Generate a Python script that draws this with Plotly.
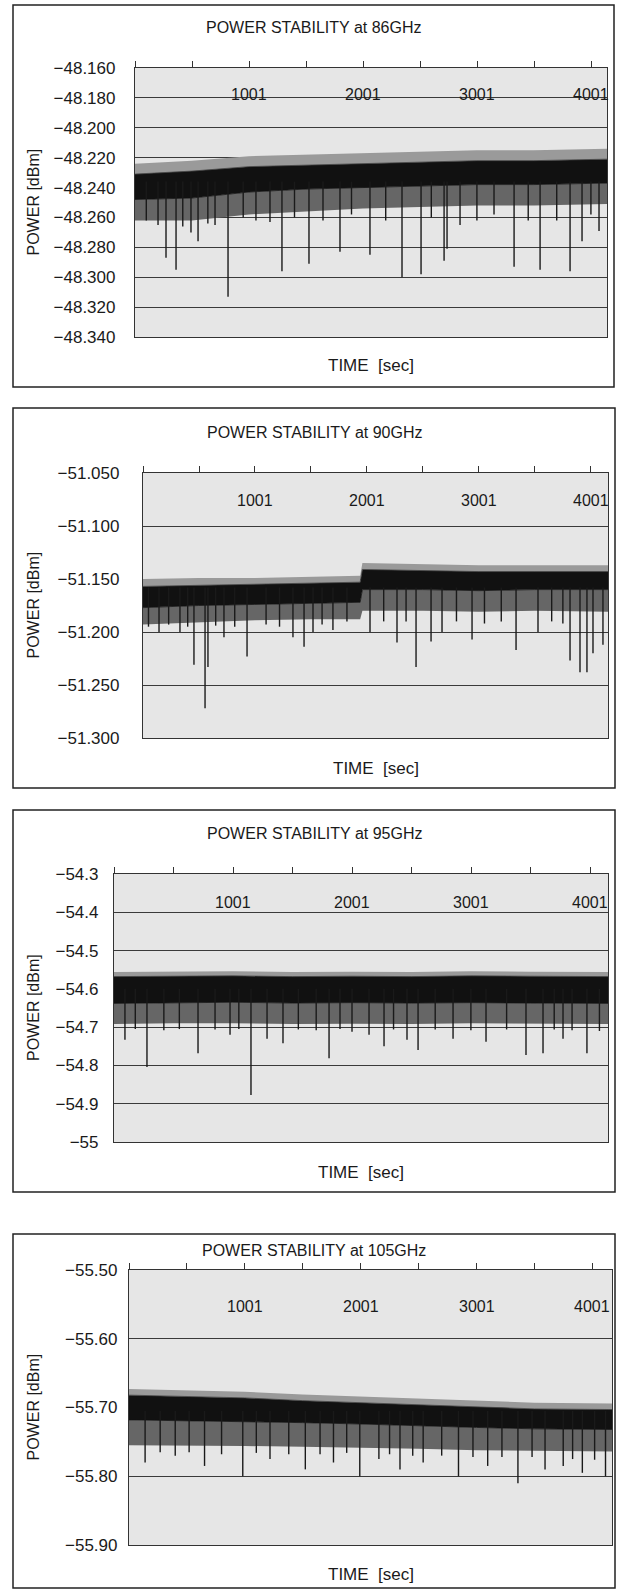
import plotly.graph_objects as go

W, H = 619, 1591

# ---------------- data ----------------
# time grid for the noise envelopes [sec]
t86 = [1, 500, 1000, 1500, 2000, 2500, 3000, 3500, 4141]
peak86 = [-48.224, -48.222, -48.219, -48.218, -48.217, -48.216, -48.215, -48.215, -48.214]
top86 = [-48.231, -48.229, -48.226, -48.225, -48.224, -48.223, -48.222, -48.222, -48.221]
low86 = [-48.248, -48.247, -48.243, -48.241, -48.240, -48.239, -48.238, -48.238, -48.237]
floor86 = [-48.262, -48.262, -48.258, -48.256, -48.254, -48.253, -48.252, -48.252, -48.251]
dip_t86 = [100, 203, 273, 361, 420, 492, 554, 640, 703, 817, 950, 1062, 1185, 1290, 1400,
           1527, 1650, 1799, 1900, 2062, 2200, 2343, 2510, 2600, 2712, 2738, 2852, 3000,
           3150, 3326, 3450, 3554, 3700, 3817, 3922, 4000, 4071]
dip_v86 = [-48.262, -48.265, -48.287, -48.295, -48.266, -48.270, -48.276, -48.264, -48.265,
           -48.313, -48.260, -48.262, -48.263, -48.296, -48.260, -48.291, -48.262, -48.283,
           -48.258, -48.285, -48.262, -48.300, -48.298, -48.260, -48.289, -48.281, -48.265,
           -48.262, -48.258, -48.293, -48.262, -48.295, -48.262, -48.296, -48.276, -48.258,
           -48.269]

t90 = [1, 500, 1000, 1500, 1940, 1960, 2500, 3000, 3500, 4153]
peak90 = [-51.150, -51.149, -51.149, -51.148, -51.147, -51.135, -51.136, -51.137, -51.137, -51.137]
top90 = [-51.157, -51.156, -51.155, -51.154, -51.153, -51.141, -51.142, -51.143, -51.143, -51.143]
low90 = [-51.177, -51.175, -51.174, -51.173, -51.172, -51.160, -51.160, -51.161, -51.160, -51.160]
floor90 = [-51.193, -51.191, -51.189, -51.188, -51.188, -51.180, -51.180, -51.181, -51.180, -51.181]
dip_t90 = [50, 144, 230, 331, 400, 456, 555, 581, 650, 724, 820, 930, 1100, 1220, 1340,
           1439, 1519, 1600, 1697, 1822, 2028, 2150, 2269, 2350, 2439, 2573, 2671, 2800,
           2939, 3050, 3200, 3332, 3528, 3650, 3750, 3814, 3903, 3965, 4019, 4108]
dip_v90 = [-51.195, -51.200, -51.193, -51.200, -51.195, -51.231, -51.272, -51.233, -51.194,
           -51.205, -51.195, -51.223, -51.193, -51.195, -51.205, -51.214, -51.200, -51.193,
           -51.198, -51.190, -51.200, -51.190, -51.210, -51.190, -51.233, -51.209, -51.200,
           -51.190, -51.207, -51.192, -51.190, -51.217, -51.200, -51.190, -51.192, -51.227,
           -51.238, -51.238, -51.220, -51.212]

t95 = [1, 500, 1000, 1500, 2000, 2500, 3000, 3500, 4152]
peak95 = [-54.556, -54.555, -54.554, -54.556, -54.555, -54.556, -54.554, -54.555, -54.556]
top95 = [-54.568, -54.567, -54.566, -54.568, -54.567, -54.568, -54.566, -54.567, -54.568]
low95 = [-54.638, -54.636, -54.635, -54.637, -54.636, -54.637, -54.636, -54.637, -54.638]
floor95 = [-54.692, -54.690, -54.690, -54.692, -54.691, -54.692, -54.690, -54.691, -54.692]
dip_t95 = [93, 180, 278, 420, 550, 707, 850, 976, 1050, 1152, 1287, 1421, 1550, 1700, 1808,
           1900, 2001, 2144, 2270, 2350, 2463, 2556, 2700, 2850, 3000, 3127, 3300, 3463,
           3606, 3700, 3774, 3850, 3975, 4080]
dip_v95 = [-54.733, -54.705, -54.804, -54.708, -54.705, -54.768, -54.706, -54.720, -54.705,
           -54.877, -54.730, -54.742, -54.706, -54.708, -54.781, -54.705, -54.712, -54.720,
           -54.750, -54.706, -54.733, -54.760, -54.706, -54.730, -54.708, -54.738, -54.706,
           -54.773, -54.768, -54.706, -54.730, -54.708, -54.768, -54.710]

t105 = [1, 500, 1000, 1500, 2000, 2500, 3000, 3500, 4170]
peak105 = [-55.673, -55.675, -55.677, -55.681, -55.684, -55.688, -55.691, -55.693, -55.694]
top105 = [-55.682, -55.684, -55.686, -55.690, -55.693, -55.697, -55.700, -55.702, -55.703]
low105 = [-55.718, -55.719, -55.720, -55.722, -55.724, -55.727, -55.729, -55.731, -55.732]
floor105 = [-55.755, -55.755, -55.756, -55.757, -55.758, -55.760, -55.762, -55.763, -55.764]
dip_t105 = [140, 270, 400, 520, 653, 800, 983, 1100, 1218, 1380, 1523, 1650, 1766, 1880,
            1993, 2158, 2250, 2340, 2450, 2540, 2700, 2845, 2970, 3097, 3220, 3358, 3480,
            3592, 3749, 3830, 3914, 4020, 4114]
dip_v105 = [-55.780, -55.765, -55.770, -55.765, -55.785, -55.768, -55.800, -55.766, -55.775,
            -55.768, -55.790, -55.768, -55.780, -55.766, -55.800, -55.775, -55.768, -55.790,
            -55.770, -55.780, -55.770, -55.800, -55.772, -55.785, -55.772, -55.810, -55.772,
            -55.790, -55.785, -55.775, -55.795, -55.776, -55.800]

ticks_86 = [-48.160, -48.180, -48.200, -48.220, -48.240, -48.260, -48.280, -48.300, -48.320, -48.340]
labels_86 = ["\u221248.160", "\u221248.180", "\u221248.200", "\u221248.220", "\u221248.240",
             "\u221248.260", "\u221248.280", "\u221248.300", "\u221248.320", "\u221248.340"]
ticks_90 = [-51.050, -51.100, -51.150, -51.200, -51.250, -51.300]
labels_90 = ["\u221251.050", "\u221251.100", "\u221251.150", "\u221251.200", "\u221251.250", "\u221251.300"]
ticks_95 = [-54.3, -54.4, -54.5, -54.6, -54.7, -54.8, -54.9, -55.0]
labels_95 = ["\u221254.3", "\u221254.4", "\u221254.5", "\u221254.6", "\u221254.7", "\u221254.8",
             "\u221254.9", "\u221255"]
ticks_105 = [-55.50, -55.60, -55.70, -55.80, -55.90]
labels_105 = ["\u221255.50", "\u221255.60", "\u221255.70", "\u221255.80", "\u221255.90"]
time_ticks = [1, 501, 1001, 1501, 2001, 2501, 3001, 3501, 4001]
time_labels = ["1001", "2001", "3001", "4001"]
time_label_vals = [1001, 2001, 3001, 4001]

# ---------------- panel layout (pixels) ----------------
panels = [
    dict(name="86GHz", t=t86, env=(peak86, top86, low86, floor86), dt=dip_t86, dv=dip_v86,
         spike_top=-48.236, yt=ticks_86, yl=labels_86, box=(13, 5, 614, 387),
         plot=(135, 68, 607, 337), title_y=28, xt_y=365, lab_gap=15, tl_y=95),
    dict(name="90GHz", t=t90, env=(peak90, top90, low90, floor90), dt=dip_t90, dv=dip_v90,
         spike_top=-51.158, yt=ticks_90, yl=labels_90, box=(13, 408, 615, 788),
         plot=(143, 473, 608, 738), title_y=432, xt_y=768, lab_gap=19, tl_y=500),
    dict(name="95GHz", t=t95, env=(peak95, top95, low95, floor95), dt=dip_t95, dv=dip_v95,
         spike_top=-54.600, yt=ticks_95, yl=labels_95, box=(13, 810, 615, 1192),
         plot=(114, 874, 608, 1142), title_y=833, xt_y=1172, lab_gap=11, tl_y=903),
    dict(name="105GHz", t=t105, env=(peak105, top105, low105, floor105), dt=dip_t105, dv=dip_v105,
         spike_top=-55.705, yt=ticks_105, yl=labels_105, box=(13, 1234, 615, 1588),
         plot=(129, 1270, 612, 1545), title_y=1250, xt_y=1574, lab_gap=7, tl_y=1306),
]

FONT = "Liberation Sans, Arial, sans-serif"
INK = "#1a1a1a"

fig = go.Figure()
shapes, annotations = [], []
layout = {}

for i, p in enumerate(panels, start=1):
    sfx = "" if i == 1 else str(i)
    xa, ya = "x" + sfx, "y" + sfx
    t = p["t"]
    peak, top, low, floor = p["env"]
    # noise band: faint peaks, dense core, spiky fringe
    fig.add_trace(go.Scatter(x=t, y=peak, mode="lines", line=dict(width=0, color="#999"),
                             xaxis=xa, yaxis=ya, showlegend=False, hoverinfo="skip"))
    fig.add_trace(go.Scatter(x=t, y=top, mode="lines", line=dict(width=0.8, color="#444"),
                             fill="tonexty", fillcolor="#9a9a9a",
                             xaxis=xa, yaxis=ya, showlegend=False, hoverinfo="skip"))
    fig.add_trace(go.Scatter(x=t, y=low, mode="lines", line=dict(width=0.8, color="#111"),
                             fill="tonexty", fillcolor="#111111",
                             xaxis=xa, yaxis=ya, showlegend=False, hoverinfo="skip"))
    fig.add_trace(go.Scatter(x=t, y=floor, mode="lines", line=dict(width=0, color="#777"),
                             fill="tonexty", fillcolor="#666666",
                             xaxis=xa, yaxis=ya, showlegend=False, hoverinfo="skip"))
    # downward spikes
    sx, sy = [], []
    for dt, dv in zip(p["dt"], p["dv"]):
        sx += [dt, dt, None]
        sy += [p["spike_top"], dv, None]
    fig.add_trace(go.Scatter(x=sx, y=sy, mode="lines", line=dict(width=1.4, color=INK),
                             xaxis=xa, yaxis=ya, showlegend=False, hoverinfo="skip"))

    L, T, R, B = p["plot"]
    ys = p["yt"]
    layout["xaxis" + sfx] = dict(
        domain=[L / W, R / W], range=[1, t[-1]], anchor=ya, side="top",
        tickvals=time_ticks, showticklabels=False, ticks="outside", ticklen=6,
        tickcolor="#333", tickwidth=1, automargin=False,
        showgrid=False, zeroline=False, showline=True, mirror=True,
        linecolor="#333", linewidth=1.2)
    layout["yaxis" + sfx] = dict(
        domain=[1 - B / H, 1 - T / H], range=[ys[-1], ys[0]], anchor=xa,
        tickvals=ys, ticktext=p["yl"], automargin=False,
        ticks="", ticklabelstandoff=p["lab_gap"],
        tickfont=dict(family=FONT, size=17, color=INK),
        showgrid=True, gridcolor="#3a3a3a", gridwidth=1.3, zeroline=False,
        showline=True, mirror=True, linecolor="#333", linewidth=1.2)

    # time labels sit inside the plot, below the top edge
    for tv, tl in zip(time_label_vals, time_labels):
        annotations.append(dict(text=tl, x=tv, xref=xa, yref=ya + " domain",
                                y=1 - (p["tl_y"] - T) / (B - T), showarrow=False,
                                xanchor="center", yanchor="middle",
                                font=dict(family=FONT, size=16, color=INK)))

    bx0, by0, bx1, by1 = p["box"]
    shapes.append(dict(type="rect", xref="paper", yref="paper",
                       x0=bx0 / W, x1=bx1 / W, y0=1 - by1 / H, y1=1 - by0 / H,
                       line=dict(color="#222", width=1.5), fillcolor="rgba(0,0,0,0)"))
    annotations.append(dict(text=f"POWER STABILITY at {p['name']}", xref="paper", yref="paper",
                            x=(bx0 + bx1) / 2 / W, y=1 - p["title_y"] / H, showarrow=False,
                            xanchor="center", yanchor="middle",
                            font=dict(family=FONT, size=16, color=INK)))
    annotations.append(dict(text="TIME  [sec]", xref="paper", yref="paper",
                            x=(L + R) / 2 / W, y=1 - p["xt_y"] / H, showarrow=False,
                            xanchor="center", yanchor="middle",
                            font=dict(family=FONT, size=17, color=INK)))
    annotations.append(dict(text="POWER [dBm]", xref="paper", yref="paper",
                            x=33 / W, y=1 - (T + B) / 2 / H, showarrow=False, textangle=-90,
                            xanchor="center", yanchor="middle",
                            font=dict(family=FONT, size=16, color=INK)))

fig.update_layout(
    width=W, height=H,
    margin=dict(l=0, r=0, t=0, b=0, pad=0, autoexpand=False),
    paper_bgcolor="white",
    plot_bgcolor="#e6e6e6",
    shapes=shapes,
    annotations=annotations,
    showlegend=False,
    **layout,
)

# page without the default body margin, so the figure fills the window exactly
reset_css = ("var s=document.createElement('style');"
             "s.innerHTML='html,body{margin:0;padding:0;overflow:hidden;}';"
             "document.head.appendChild(s);window.scrollTo(0,0);")
fig.write_html("out.html", config={"displayModeBar": False}, post_script=reset_css)
